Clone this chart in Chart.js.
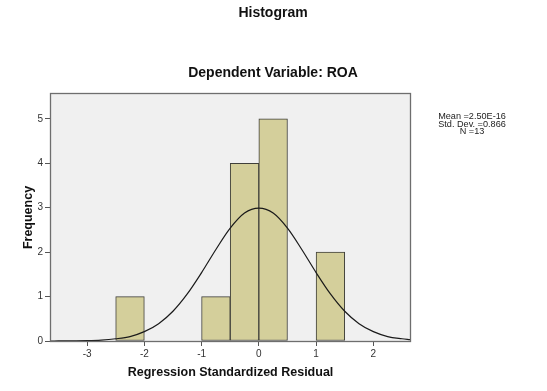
<!DOCTYPE html>
<html>
<head>
<meta charset="utf-8">
<script src="https://cdn.jsdelivr.net/npm/chart.js@4/dist/chart.umd.min.js"></script>
<style>
    html, body { margin: 0; padding: 0; background: #ffffff; }
    #wrap { width: 547px; height: 391px; position: relative; }
</style>
</head>
<body>
<div id="wrap"><canvas id="histChart"></canvas></div>
<script>
// histogram bins (width 0.5), centre of each bin and its count
const binCenters = [-2.25, -0.75, -0.25, 0.25, 1.25];
const frequencies = [1, 1, 4, 5, 2];

// normal curve
const curveX = [-3.63, -3.5, -3.25, -3, -2.75, -2.5, -2.25, -2, -1.75, -1.5, -1.25, -1, -0.75, -0.5, -0.25, 0,
    0.25, 0.5, 0.75, 1, 1.25, 1.5, 1.75, 2, 2.25, 2.5, 2.64];
const curveY = [0.0, 0.001, 0.003, 0.007, 0.02, 0.05, 0.10, 0.21, 0.39, 0.67, 1.06, 1.54, 2.06, 2.54, 2.88, 2.99,
    2.88, 2.54, 2.06, 1.54, 1.06, 0.67, 0.39, 0.21, 0.10, 0.05, 0.03];

const xTicks = [-3, -2, -1, 0, 1, 2];
const yTicks = [0, 1, 2, 3, 4, 5];

const chartTitle = 'Histogram';
const chartSubtitle = 'Dependent Variable: ROA';
const xTitle = 'Regression Standardized Residual';
const yTitle = 'Frequency';
const statLines = ['Mean =2.50E-16', 'Std. Dev. =0.866', 'N =13'];

const FONT = 'Arial, "Liberation Sans", sans-serif';

const spssFrame = {
    id: 'spssFrame',
    beforeDatasetsDraw(chart) {
        const { ctx, chartArea: a } = chart;
        ctx.save();
        ctx.fillStyle = '#f0f0f0';
        ctx.fillRect(a.left, a.top, a.right - a.left, a.bottom - a.top);
        ctx.restore();
    },
    afterDatasetsDraw(chart) {
        const { ctx, chartArea: a } = chart;
        ctx.save();
        ctx.strokeStyle = '#6e6e6e';
        ctx.lineWidth = 1.3;
        ctx.strokeRect(a.left - 0.5, a.top - 0.5, a.right - a.left + 1, a.bottom - a.top + 1);
        ctx.restore();
    },
    afterDraw(chart) {
        const { ctx, chartArea: a } = chart;
        ctx.save();
        ctx.fillStyle = '#111111';
        ctx.textAlign = 'center';
        ctx.textBaseline = 'middle';

        ctx.font = 'bold 14px ' + FONT;
        ctx.fillText(chartTitle, 273, 13);
        ctx.fillText(chartSubtitle, 273, 73);

        ctx.font = 'bold 12.5px ' + FONT;
        ctx.fillText(xTitle, (a.left + a.right) / 2, 373);

        ctx.save();
        ctx.translate(29, (a.top + a.bottom) / 2);
        ctx.rotate(-Math.PI / 2);
        ctx.fillText(yTitle, 0, 0);
        ctx.restore();

        // stats box text is a little wide and short in the original
        ctx.font = '8.3px ' + FONT;
        ctx.fillStyle = '#222222';
        ctx.textBaseline = 'alphabetic';
        statLines.forEach((line, i) => {
            ctx.save();
            ctx.translate(472, 119 + i * 7.65);
            ctx.scale(1.1, 1);
            ctx.fillText(line, 0, 0);
            ctx.restore();
        });
        ctx.restore();
    }
};

const ctx = document.getElementById('histChart').getContext('2d');
new Chart(ctx, {
    type: 'bar',
    data: {
        datasets: [{
            type: 'bar',
            label: 'Frequency',
            data: binCenters.map((x, i) => ({ x, y: frequencies[i] })),
            backgroundColor: '#d4cf9b',
            borderColor: '#3f3f3a',
            borderWidth: 1,
            borderSkipped: false,
            barPercentage: 1,
            categoryPercentage: 1,
            order: 2
        }, {
            type: 'line',
            label: 'Normal',
            data: curveX.map((x, i) => ({ x, y: curveY[i] })),
            borderColor: '#1a1a1a',
            borderWidth: 1.2,
            pointRadius: 0,
            fill: false,
            cubicInterpolationMode: 'monotone',
            order: 1
        }]
    },
    options: {
        responsive: true,
        maintainAspectRatio: false,
        animation: false,
        layout: { padding: { top: 94, right: 137, left: 0, bottom: 0 } },
        plugins: {
            legend: { display: false },
            tooltip: { enabled: false }
        },
        scales: {
            x: {
                type: 'linear',
                offset: false,
                min: -3.63,
                max: 2.64,
                afterBuildTicks(scale) { scale.ticks = xTicks.map((v) => ({ value: v })); },
                afterFit(scale) { scale.height = 50; },
                grid: { offset: false, drawOnChartArea: false, drawTicks: true, tickLength: 5, color: '#555555' },
                border: { display: false },
                ticks: { color: '#333333', font: { size: 10, family: FONT }, padding: 2, maxRotation: 0 }
            },
            y: {
                min: 0,
                max: 5.56,
                afterBuildTicks(scale) { scale.ticks = yTicks.map((v) => ({ value: v })); },
                afterFit(scale) { scale.width = 51; },
                grid: { drawOnChartArea: false, drawTicks: true, tickLength: 6, color: '#555555' },
                border: { display: false },
                ticks: { color: '#333333', font: { size: 10, family: FONT }, padding: 2 }
            }
        }
    },
    plugins: [spssFrame]
});
</script>
</body>
</html>
